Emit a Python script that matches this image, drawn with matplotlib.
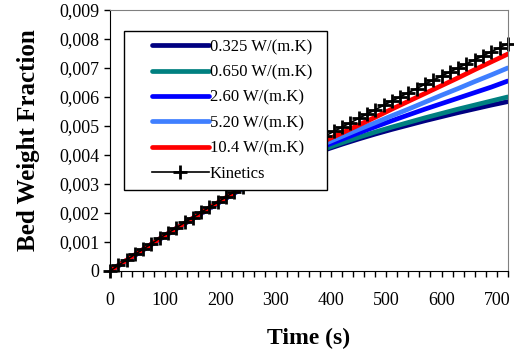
import matplotlib.pyplot as plt
from matplotlib.ticker import MultipleLocator, FuncFormatter
from matplotlib.legend_handler import HandlerLine2D

# ======================
# DATA
# ======================
t_kin = [0, 15, 30, 45, 60, 75, 90, 105, 120, 135, 150, 165, 180, 195, 210, 225,
         240, 255, 270, 285, 300, 315, 330, 345, 360, 375, 390, 405, 420, 435,
         450, 465, 480, 495, 510, 525, 540, 555, 570, 585, 600, 615, 630, 645,
         660, 675, 690, 705, 720]
kinetics = [0.0, 0.00019, 0.00038, 0.00057, 0.00075, 0.00094, 0.00113, 0.00131,
            0.00149, 0.00167, 0.00184, 0.00202, 0.00220, 0.00237, 0.00255, 0.00273,
            0.00290, 0.00308, 0.00326, 0.00344, 0.00362, 0.00380, 0.00398, 0.00416,
            0.00433, 0.00450, 0.00466, 0.00481, 0.00496, 0.00511, 0.00526, 0.00541,
            0.00556, 0.00571, 0.00586, 0.00600, 0.00615, 0.00629, 0.00644, 0.00658,
            0.00672, 0.00686, 0.00700, 0.00714, 0.00728, 0.00742, 0.00756, 0.00770,
            0.00784]

t_mod = [0, 30, 60, 90, 120, 150, 180, 210, 240, 270, 300, 330, 360, 390, 420,
         450, 480, 510, 540, 570, 600, 630, 660, 690, 720]
k_0325 = [0.0, 0.00036, 0.00073, 0.00110, 0.00146, 0.00181, 0.00216, 0.00251,
          0.00285, 0.00318, 0.00347, 0.00373, 0.00397, 0.00418, 0.00437, 0.00455,
          0.00472, 0.00488, 0.00503, 0.00518, 0.00532, 0.00546, 0.00559, 0.00572,
          0.00584]
k_0650 = [0.0, 0.00036, 0.00073, 0.00110, 0.00146, 0.00181, 0.00216, 0.00251,
          0.00286, 0.00320, 0.00349, 0.00376, 0.00400, 0.00422, 0.00442, 0.00461,
          0.00479, 0.00496, 0.00512, 0.00528, 0.00543, 0.00558, 0.00572, 0.00586,
          0.00600]
k_260 = [0.0, 0.00036, 0.00073, 0.00110, 0.00146, 0.00181, 0.00216, 0.00251,
         0.00286, 0.00321, 0.00352, 0.00382, 0.00408, 0.00432, 0.00454, 0.00476,
         0.00497, 0.00518, 0.00538, 0.00558, 0.00577, 0.00596, 0.00615, 0.00634,
         0.00655]
k_520 = [0.0, 0.00036, 0.00073, 0.00110, 0.00146, 0.00181, 0.00216, 0.00251,
         0.00286, 0.00322, 0.00355, 0.00386, 0.00414, 0.00440, 0.00464, 0.00488,
         0.00511, 0.00535, 0.00558, 0.00582, 0.00606, 0.00629, 0.00653, 0.00676,
         0.00700]
k_104 = [0.0, 0.00037, 0.00074, 0.00111, 0.00147, 0.00182, 0.00218, 0.00253,
         0.00288, 0.00324, 0.00358, 0.00392, 0.00422, 0.00450, 0.00476, 0.00503,
         0.00530, 0.00558, 0.00585, 0.00612, 0.00639, 0.00666, 0.00694, 0.00721,
         0.00748]

labels = ["0.325 W/(m.K)", "0.650 W/(m.K)", "2.60 W/(m.K)", "5.20 W/(m.K)",
          "10.4 W/(m.K)", "Kinetics"]
colors = ["#000080", "#008080", "#0000FF", "#3F7FFF", "#FF0000"]
models = [k_0325, k_0650, k_260, k_520, k_104]


# legend handle that leaves a gap on the left, like the Excel legend
class PaddedLine(HandlerLine2D):
    def create_artists(self, legend, orig_handle, xdescent, ydescent,
                       width, height, fontsize, trans):
        gap = 14
        return super().create_artists(legend, orig_handle, xdescent - gap,
                                      ydescent, width - gap, height,
                                      fontsize, trans)


# ======================
# PLOT
# ======================
plt.rcParams["font.family"] = "Liberation Serif"

fig = plt.figure(figsize=(5.14, 3.56), dpi=100)
ax = fig.add_axes([0.214, 0.239, 0.774, 0.733])

for y, c, lab in zip(models, colors, labels[:5]):
    ax.plot(t_mod, y, color=c, linewidth=3.4, label=lab, solid_capstyle="round")
ax.plot(t_kin, kinetics, color="black", linewidth=1.2, marker="+",
        markersize=10, markeredgewidth=2.0, label=labels[5], clip_on=False)

ax.set_xlim(0, 720)
ax.set_ylim(0, 0.009)
ax.xaxis.set_major_locator(MultipleLocator(100))
ax.xaxis.set_minor_locator(MultipleLocator(20))
ax.yaxis.set_major_locator(MultipleLocator(0.001))
ax.yaxis.set_major_formatter(
    FuncFormatter(lambda v, p: "0" if abs(v) < 1e-9 else f"{v:.3f}".replace(".", ",")))
ax.tick_params(axis="both", which="both", direction="out", labelsize=13,
               length=4, width=1, color="black")
ax.tick_params(axis="x", pad=11)

ax.spines["top"].set_color("#808080")
ax.spines["right"].set_color("#808080")
ax.spines["left"].set_color("black")
ax.spines["bottom"].set_color("black")

ax.set_xlabel("Time (s)", fontsize=17, fontweight="bold", labelpad=14)
ax.set_ylabel("Bed Weight Fraction", fontsize=18, fontweight="bold", labelpad=14)

leg = ax.legend(loc="upper left", bbox_to_anchor=(0.035, 0.3, 0.51, 0.62),
                mode="expand", borderaxespad=0,
                fontsize=12, handlelength=4.6, handletextpad=0.05,
                labelspacing=0.56, fancybox=False, framealpha=1,
                edgecolor="black", borderpad=0.5,
                handler_map={plt.Line2D: PaddedLine()})
leg.get_frame().set_linewidth(1.0)

fig.savefig("out.png", dpi=100)
